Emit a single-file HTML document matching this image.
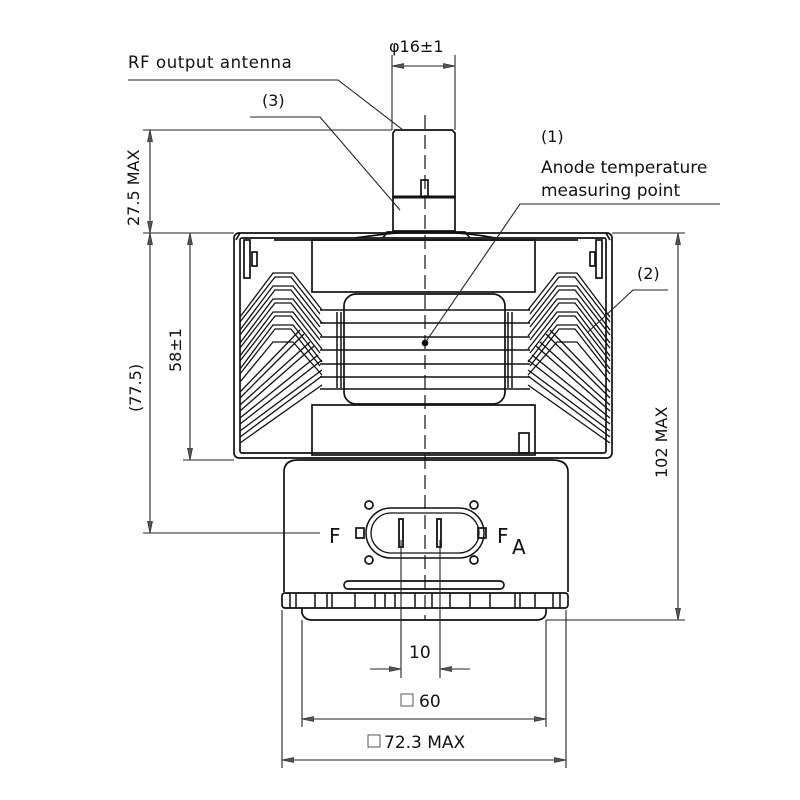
<!DOCTYPE html>
<html><head><meta charset="utf-8"><style>html,body{margin:0;padding:0;background:#fff}svg{display:block}text{font-family:"DejaVu Sans","Liberation Sans",sans-serif;fill:#111}</style></head>
<body>
<svg width="800" height="800" viewBox="0 0 800 800" xmlns="http://www.w3.org/2000/svg">
<defs>
<marker id="a" viewBox="0 0 12 6" refX="12" refY="3" markerWidth="12" markerHeight="6" orient="auto-start-reverse" markerUnits="userSpaceOnUse"><path d="M0,0.5 L12,3 L0,5.5 Z" fill="#555" stroke="#333" stroke-width="0.8"/></marker>
</defs>
<g fill="none" stroke="#111" stroke-width="1.7">
<line x1="425" y1="115" x2="425" y2="620" stroke-dasharray="14,6" stroke-width="1.2"/>
<path d="M393,133 L395,130 L452,130 L455,133 L455,197 L393,197 Z"/>
<rect x="393" y="197" width="62" height="34"/>
<line x1="393" y1="197" x2="455" y2="197" stroke-width="3"/>
<rect x="421" y="180" width="7" height="17"/>
<path d="M383,238 L387,232 L465,232 L470,238"/>
<path d="M355,238 Q390,233 410,232 M440,232 Q470,233 495,238"/>
<rect x="234" y="233" width="378" height="225" rx="5"/>
<rect x="240" y="238" width="366" height="215" rx="2"/>
<line x1="274" y1="240" x2="578" y2="240"/>
<path d="M236,240 L240,233 M610,240 L606,233"/>
<rect x="244" y="240" width="6" height="38"/><rect x="252" y="252" width="5" height="14"/>
<rect x="596" y="240" width="6" height="38"/><rect x="590" y="252" width="5" height="14"/>
<rect x="312" y="240" width="223" height="52"/>
<rect x="344" y="294" width="161" height="110" rx="12"/>
<rect x="312" y="405" width="223" height="50"/>
<rect x="519" y="433" width="10" height="20"/>
<g stroke-width="1.5">
<line x1="320" y1="310" x2="530" y2="310"/><line x1="320" y1="323" x2="530" y2="323"/>
<line x1="320" y1="337" x2="530" y2="337"/><line x1="320" y1="350" x2="530" y2="350"/>
<line x1="320" y1="364" x2="530" y2="364"/><line x1="320" y1="377" x2="530" y2="377"/>
<line x1="320" y1="389" x2="530" y2="389"/>
<line x1="337" y1="312" x2="337" y2="388"/><line x1="341" y1="312" x2="341" y2="388"/>
<line x1="508" y1="312" x2="508" y2="388"/><line x1="512" y1="312" x2="512" y2="388"/>
</g>
<g id="fl" stroke-width="1.3">
<polyline points="240,317 273,273 293,273 322,310"/><polyline points="240,322 275,277 291,277 320,314"/>
<polyline points="240,330 273,286 293,286 322,323"/><polyline points="240,335 275,290 291,290 320,327"/>
<polyline points="240,343 273,299 293,299 322,336"/><polyline points="240,348 275,303 291,303 320,340"/>
<polyline points="240,356 273,312 293,312 322,349"/><polyline points="240,361 275,316 291,316 320,353"/>
<polyline points="240,369 273,325 293,325 322,362"/><polyline points="240,374 275,329 291,329 320,366"/>
<polyline points="240,382 273,342 293,342 322,375"/>
<line x1="240" y1="392" x2="300" y2="330"/><line x1="240" y1="398" x2="304" y2="334"/>
<line x1="240" y1="405" x2="310" y2="342"/><line x1="240" y1="411" x2="314" y2="346"/>
<line x1="240" y1="418" x2="318" y2="355"/><line x1="240" y1="424" x2="322" y2="360"/>
<line x1="240" y1="431" x2="322" y2="370"/><line x1="240" y1="437" x2="322" y2="376"/>
<line x1="240" y1="443" x2="322" y2="385"/>
</g>
<use href="#fl" transform="translate(850,0) scale(-1,1)"/>
<path d="M284,592 L284,472 Q284,460 298,460 L552,460 Q568,460 568,472 L568,592"/>
<rect x="366" y="508" width="118" height="50" rx="25" stroke-width="1.5"/>
<rect x="371" y="513" width="108" height="40" rx="20" stroke-width="1.3"/>
<rect x="399" y="519" width="4" height="28" stroke-width="1.8"/><rect x="437" y="519" width="4" height="28" stroke-width="1.8"/>
<circle cx="369" cy="505" r="4"/><circle cx="474" cy="505" r="4"/>
<circle cx="369" cy="560" r="4"/><circle cx="474" cy="560" r="4"/>
<rect x="356" y="528" width="8" height="10"/><rect x="478" y="528" width="8" height="10"/>
<rect x="344" y="581" width="160" height="8" rx="4"/>
<rect x="282" y="593" width="286" height="15" rx="3"/>
<g stroke-width="1.5">
<line x1="290" y1="593" x2="290" y2="608"/><line x1="296" y1="593" x2="296" y2="608"/>
<line x1="315" y1="593" x2="315" y2="608"/><line x1="327" y1="593" x2="327" y2="608"/><line x1="332" y1="593" x2="332" y2="608"/>
<line x1="355" y1="593" x2="355" y2="608"/><line x1="375" y1="593" x2="375" y2="608"/><line x1="385" y1="593" x2="385" y2="608"/>
<line x1="395" y1="593" x2="395" y2="608"/><line x1="415" y1="593" x2="415" y2="608"/><line x1="432" y1="593" x2="432" y2="608"/>
<line x1="450" y1="593" x2="450" y2="608"/><line x1="470" y1="593" x2="470" y2="608"/><line x1="490" y1="593" x2="490" y2="608"/>
<line x1="515" y1="593" x2="515" y2="608"/><line x1="520" y1="593" x2="520" y2="608"/><line x1="535" y1="593" x2="535" y2="608"/>
<line x1="553" y1="593" x2="553" y2="608"/><line x1="560" y1="593" x2="560" y2="608"/>
</g>
<path d="M302,608 L302,613 Q304,620 312,620 L536,620 Q545,620 546,613 L546,608"/>
</g>
<g fill="none" stroke="#222" stroke-width="1.1">
<line x1="392" y1="130" x2="392" y2="55"/><line x1="455" y1="130" x2="455" y2="55"/>
<line x1="392" y1="66" x2="455" y2="66" marker-start="url(#a)" marker-end="url(#a)"/>
<line x1="143" y1="130" x2="392" y2="130"/>
<line x1="143" y1="233" x2="234" y2="233"/>
<line x1="150" y1="130" x2="150" y2="233" marker-start="url(#a)" marker-end="url(#a)"/>
<line x1="150" y1="233" x2="150" y2="533" marker-start="url(#a)" marker-end="url(#a)"/>
<line x1="143" y1="533" x2="320" y2="533"/>
<line x1="190" y1="233" x2="190" y2="460" marker-start="url(#a)" marker-end="url(#a)"/>
<line x1="183" y1="460" x2="234" y2="460"/>
<line x1="612" y1="233" x2="685" y2="233"/>
<line x1="546" y1="620" x2="685" y2="620"/>
<line x1="678" y1="233" x2="678" y2="620" marker-start="url(#a)" marker-end="url(#a)"/>
<line x1="401" y1="540" x2="401" y2="678"/><line x1="440" y1="540" x2="440" y2="678"/>
<line x1="370" y1="669" x2="401" y2="669" marker-end="url(#a)"/>
<line x1="470" y1="669" x2="440" y2="669" marker-end="url(#a)"/>
<line x1="302" y1="620" x2="302" y2="727"/><line x1="546" y1="620" x2="546" y2="727"/>
<line x1="302" y1="719" x2="546" y2="719" marker-start="url(#a)" marker-end="url(#a)"/>
<line x1="282" y1="610" x2="282" y2="768"/><line x1="566" y1="610" x2="566" y2="768"/>
<line x1="282" y1="760" x2="566" y2="760" marker-start="url(#a)" marker-end="url(#a)"/>
<polyline points="128,80 338,80 403,130"/>
<polyline points="250,117 320,117 400,210"/>
<polyline points="720,204 520,204 425,343"/>
<polyline points="668,290 633,290 588,332"/>
</g>
<circle cx="425" cy="343" r="3.3" fill="#111"/>
<text x="128" y="68" font-size="16.5" letter-spacing="0.6">RF  output  antenna</text>
<text x="262" y="106" font-size="16">(3)</text>
<text x="389" y="52" font-size="16">φ16±1</text>
<text x="541" y="142" font-size="16">(1)</text>
<text x="541" y="173" font-size="17">Anode temperature</text>
<text x="541" y="196" font-size="17">measuring point</text>
<text x="637" y="279" font-size="16">(2)</text>
<text font-size="16" transform="translate(139,226) rotate(-90)">27.5 MAX</text>
<text font-size="16" transform="translate(141,412) rotate(-90)">(77.5)</text>
<text font-size="16" transform="translate(181,372) rotate(-90)">58±1</text>
<text font-size="16" transform="translate(667,478) rotate(-90)">102 MAX</text>
<text x="329" y="543" font-size="20">F</text>
<text x="497" y="543" font-size="20">F</text>
<text x="512" y="554" font-size="20">A</text>
<text x="409" y="658" font-size="17">10</text>
<rect x="401" y="694" width="12" height="12" fill="none" stroke="#555"/>
<text x="419" y="707" font-size="17">60</text>
<rect x="368" y="735" width="12" height="12" fill="none" stroke="#555"/>
<text x="384" y="748" font-size="17">72.3 MAX</text>
</svg>
</body></html>
